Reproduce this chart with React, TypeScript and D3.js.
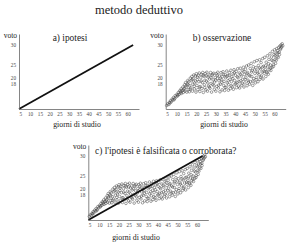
import React, { useEffect, useRef } from "react";
import * as d3 from "d3";

// x axis ticks (giorni di studio) and y axis ticks (voto)
const xTicks = [5, 10, 15, 20, 25, 30, 35, 40, 45, 50, 55, 60];
const yTicks = [18, 20, 25, 30];

// the vertical axis of the original is not evenly spaced: voto -> pixels above the x axis
const yDomain = [10, 18, 20, 25, 30, 32.75];
const yOffsets = [0, 25.5, 31.5, 44, 64, 75];
const xDomain = [4.3, 65.8];

// a) ipotesi: straight line
const hypothesis: [number, number][] = [
  [4.3, 10],
  [62.8, 30],
];

// b) osservazione: giorni, voto
const observed: [number, number][] = [
  [4.8, 11.1], [5.3, 11.6], [5.9, 11.4], [6.2, 12.1], [6.8, 12.6], [7.1, 12.2], [7.6, 13.1], [8.0, 12.8],
  [8.3, 13.6], [8.9, 13.3], [9.2, 14.2], [9.6, 13.8], [10.1, 14.6], [10.4, 14.1], [10.8, 15.2], [11.2, 14.6],
  [11.5, 15.7], [11.9, 15.1], [12.2, 16.3], [12.4, 14.9], [12.8, 15.8], [13.1, 16.9], [13.3, 15.2], [13.7, 16.4],
  [14.0, 17.6], [14.2, 15.6], [14.5, 18.3], [14.8, 16.8], [15.1, 15.3], [15.3, 17.9], [15.6, 19.0], [15.9, 16.1],
  [16.1, 18.6], [16.4, 15.4], [16.6, 17.3], [16.9, 19.8], [17.2, 16.6], [17.4, 18.9], [17.7, 20.4], [18.0, 15.6],
  [18.2, 17.8], [18.5, 19.6], [18.7, 21.0], [19.0, 16.3], [19.2, 18.2], [19.5, 20.6], [19.8, 15.3], [20.0, 21.5],
  [20.3, 17.4], [20.5, 19.3], [20.8, 16.1], [21.0, 20.9], [21.3, 18.6], [21.5, 21.8], [21.8, 15.5], [22.1, 17.0],
  [22.3, 19.9], [22.6, 21.2], [22.8, 16.4], [23.1, 18.3], [23.3, 22.0], [23.6, 15.2], [23.9, 20.5], [24.1, 17.6],
  [24.4, 19.1], [24.6, 21.6], [24.9, 16.0], [25.2, 18.8], [25.4, 22.1], [25.7, 15.6], [26.0, 20.2], [26.2, 17.2],
  [26.5, 21.0], [26.8, 19.5], [27.0, 16.5], [27.3, 22.0], [27.6, 18.0], [27.8, 15.3], [28.1, 20.8], [28.4, 17.7],
  [28.6, 19.2], [28.9, 21.7], [29.2, 16.2], [29.4, 18.5], [29.7, 20.0], [30.0, 15.6], [30.2, 21.5], [30.5, 17.1],
  [30.8, 19.7], [31.0, 22.1], [31.3, 16.6], [31.6, 18.9], [31.8, 20.6], [32.1, 15.4], [32.4, 17.8], [32.6, 21.9],
  [32.9, 19.3], [33.2, 16.0], [33.4, 20.4], [33.7, 22.3], [34.0, 17.4], [34.2, 18.7], [34.5, 15.8], [34.8, 21.2],
  [35.0, 19.9], [35.3, 16.8], [35.6, 22.6], [35.8, 18.2], [36.1, 20.7], [36.4, 15.9], [36.6, 17.6], [36.9, 21.9],
  [37.2, 19.4], [37.4, 16.4], [37.7, 22.9], [38.0, 18.6], [38.2, 20.3], [38.5, 17.0], [38.8, 21.5], [39.0, 16.2],
  [39.3, 23.1], [39.6, 19.0], [39.8, 17.8], [40.1, 20.9], [40.4, 22.4], [40.6, 16.7], [40.9, 18.4], [41.2, 23.5],
  [41.4, 19.9], [41.7, 17.2], [42.0, 21.8], [42.2, 16.6], [42.5, 23.7], [42.8, 18.9], [43.0, 20.6], [43.3, 17.5],
  [43.6, 22.7], [43.8, 19.4], [44.1, 24.1], [44.4, 16.9], [44.6, 21.2], [44.9, 18.2], [45.2, 23.3], [45.4, 20.1],
  [45.7, 24.6], [46.0, 17.3], [46.2, 22.0], [46.5, 19.1], [46.8, 25.0], [47.0, 21.0], [47.3, 17.8], [47.6, 23.6],
  [47.8, 18.6], [48.1, 25.4], [48.4, 20.4], [48.6, 22.8], [48.9, 17.4], [49.2, 24.3], [49.4, 19.6], [49.7, 25.8],
  [50.0, 21.6], [50.2, 18.2], [50.5, 23.9], [50.8, 20.0], [51.0, 26.1], [51.3, 22.5], [51.6, 18.6], [51.8, 24.8],
  [52.1, 21.1], [52.4, 26.3], [52.6, 19.4], [52.9, 23.4], [53.2, 25.6], [53.4, 20.6], [53.7, 22.2], [54.0, 26.6],
  [54.2, 19.5], [54.5, 24.5], [54.8, 21.7], [55.0, 26.9], [55.3, 23.2], [55.6, 20.4], [55.8, 25.7], [56.1, 22.3],
  [56.4, 27.3], [56.6, 24.2], [56.9, 21.3], [57.2, 26.4], [57.4, 23.1], [57.7, 27.8], [58.0, 25.0], [58.2, 22.8],
  [58.5, 27.0], [58.8, 24.0], [59.0, 28.4], [59.3, 26.0], [59.6, 25.1], [59.8, 27.6], [60.1, 28.8], [60.4, 26.4],
  [60.6, 25.4], [60.9, 28.0], [61.2, 29.1], [61.4, 27.1], [61.7, 28.6], [62.0, 26.9], [62.2, 29.4], [62.5, 28.2],
  [62.8, 29.7], [63.1, 28.9], [63.4, 30.0], [63.7, 29.5], [64.0, 30.3], [64.3, 29.8],
  [6.5, 11.9], [8.6, 12.9], [10.6, 14.4], [12.0, 15.5], [13.5, 16.0], [14.6, 17.2], [15.8, 17.6], [16.8, 16.2],
  [17.9, 19.3], [18.9, 17.1], [19.6, 18.8], [20.6, 20.2], [21.6, 16.9], [22.5, 18.8], [23.4, 20.9], [24.3, 16.7],
  [25.0, 20.6], [25.9, 18.2], [26.7, 16.9], [27.5, 19.9], [28.3, 21.3], [29.0, 17.3], [29.9, 19.1], [30.7, 20.9],
  [31.5, 17.5], [32.3, 19.7], [33.0, 18.4], [33.9, 21.1], [34.7, 16.8], [35.5, 20.4], [36.3, 18.9], [37.0, 20.9],
  [37.9, 17.3], [38.7, 19.6], [39.5, 21.9], [40.3, 17.9], [41.0, 20.3], [41.9, 18.6], [42.7, 21.3], [43.5, 18.1],
  [44.3, 22.4], [45.0, 19.4], [45.9, 21.6], [46.7, 18.5], [47.5, 20.6], [48.3, 22.2], [49.0, 18.8], [49.9, 23.0],
  [50.7, 19.3], [51.5, 21.8], [52.3, 23.8], [53.0, 20.1], [53.9, 24.2], [54.7, 22.6], [55.5, 24.7], [56.3, 21.9],
  [57.0, 25.3], [57.9, 23.8], [58.7, 26.2], [59.5, 24.4], [60.3, 27.3], [61.0, 26.2], [61.8, 28.0], [62.6, 27.6],
  [63.3, 29.2],
];

const panels = [
  { title: "a) ipotesi", tx: 70, ty: 40.5, anchor: "middle", ox: 19, oy: 109, lx: 77, ly: 126.5, dots: false, line: true },
  { title: "b) osservazione", tx: 222, ty: 40.5, anchor: "middle", ox: 165.7, oy: 109, lx: 224, ly: 126.5, dots: true, line: false },
  { title: "c) l'ipotesi è falsificata o corroborata?", tx: 95, ty: 153.5, anchor: "start", ox: 88.3, oy: 220, lx: 136, ly: 239.5, dots: true, line: true },
];

const font = "Liberation Serif, DejaVu Serif, serif";

const App = () => {
  const svgRef = useRef(null);

  useEffect(() => {
    const svg = d3.select(svgRef.current);
    svg.selectAll("*").remove();

    svg
      .append("text")
      .attr("x", 139)
      .attr("y", 14)
      .attr("text-anchor", "middle")
      .attr("font-family", font)
      .attr("font-size", 12.5)
      .attr("fill", "#222")
      .text("metodo deduttivo");

    panels.forEach((p) => {
      const x = d3.scaleLinear().domain(xDomain).range([p.ox, p.ox + 120]);
      const y = d3
        .scaleLinear()
        .domain(yDomain)
        .range(yOffsets.map((o) => p.oy - o));

      const g = svg.append("g");

      // dots first, the line on top
      if (p.dots) {
        g.append("g")
          .selectAll("circle")
          .data(observed)
          .enter()
          .append("circle")
          .attr("cx", (d) => x(d[0]))
          .attr("cy", (d) => y(d[1]))
          .attr("r", 1.3)
          .attr("fill", "none")
          .attr("stroke", "#444")
          .attr("stroke-width", 0.5);
      }

      if (p.line) {
        const line = d3
          .line<[number, number]>()
          .x((d) => x(d[0]))
          .y((d) => y(d[1]));
        g.append("path")
          .attr("d", line(hypothesis))
          .attr("fill", "none")
          .attr("stroke", "#111")
          .attr("stroke-width", 1.8);
      }

      const xAxis = g
        .append("g")
        .attr("transform", `translate(0,${p.oy})`)
        .call(d3.axisBottom(x).tickValues(xTicks).tickSize(0).tickPadding(3));
      const yAxis = g
        .append("g")
        .attr("transform", `translate(${p.ox},0)`)
        .call(d3.axisLeft(y).tickValues(yTicks).tickSize(0).tickPadding(3));

      [xAxis, yAxis].forEach((a) => {
        a.attr("font-family", font);
        a.select(".domain").attr("stroke", "#666").attr("stroke-width", 0.8);
        a.selectAll("text").attr("font-family", font).attr("font-size", 5.2).attr("fill", "#444");
      });

      g.append("text")
        .attr("x", p.ox - 2)
        .attr("y", p.oy - 71)
        .attr("text-anchor", "end")
        .attr("font-family", font)
        .attr("font-size", 7.5)
        .attr("fill", "#222")
        .text("voto");

      g.append("text")
        .attr("x", p.tx)
        .attr("y", p.ty)
        .attr("text-anchor", p.anchor)
        .attr("font-family", font)
        .attr("font-size", 9.4)
        .attr("fill", "#222")
        .text(p.title);

      g.append("text")
        .attr("x", p.lx)
        .attr("y", p.ly)
        .attr("text-anchor", "middle")
        .attr("font-family", font)
        .attr("font-size", 7.8)
        .attr("fill", "#222")
        .text("giorni di studio");
    });
  }, []);

  return (
    <svg
      ref={svgRef}
      width={287}
      height={245}
      style={{ position: "absolute", left: 0, top: 0, background: "#fff" }}
    ></svg>
  );
};

export default App;
